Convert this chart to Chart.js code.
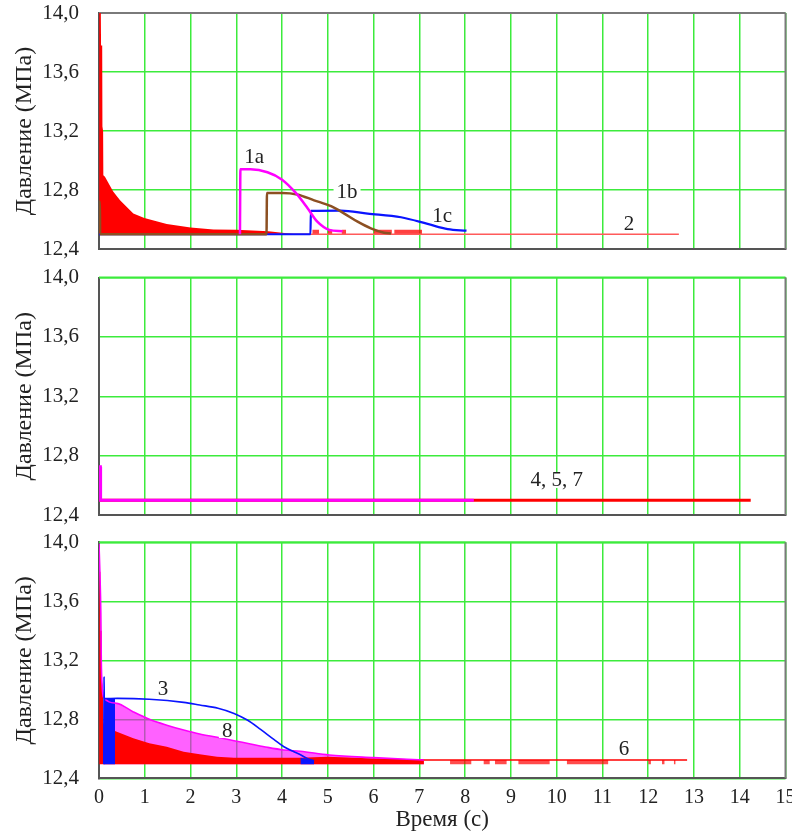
<!DOCTYPE html>
<html><head><meta charset="utf-8">
<script src="https://cdn.jsdelivr.net/npm/chart.js@4.4.0/dist/chart.umd.min.js"></script>
<style>
html,body{margin:0;padding:0;background:#fff;}
#wrap{position:relative;width:792px;height:834px;overflow:hidden;}
canvas{position:absolute;left:0;}
</style></head><body>
<div id="wrap">
<canvas id="c1" width="792" height="262" style="top:0px"></canvas>
<canvas id="c2" width="792" height="268" style="top:262px"></canvas>
<canvas id="c3" width="792" height="304" style="top:530px"></canvas>
</div>
<script>
// ---------- axes ----------
const X_MIN = 0, X_MAX = 15, X_STEP = 1;
const Y_TICKS = [12.4, 12.8, 13.2, 13.6, 14.0];
const Y_TITLE = 'Давление (МПа)';
const X_TITLE = 'Время (с)';

// ---------- panel 1 ----------
// curve 2 (red, oscillating envelope and flat tail)
const p1_env2_t = [0, 0.005, 0.04, 0.045, 0.07, 0.075, 0.09, 0.095, 0.13, 0.31, 0.46, 0.75, 0.99, 1.48, 2.0, 2.5, 3.0, 3.7, 4.3];
const p1_env2_v = [12.5, 14.0, 14.0, 13.78, 13.78, 13.23, 13.2, 12.9, 12.89, 12.79, 12.73, 12.64, 12.61, 12.57, 12.545, 12.533, 12.53, 12.52, 12.5];
const p1_line2_t = [0, 12.67];
const p1_line2_v = [12.5, 12.5];
const p1_dip2_start = [4.66, 5.0, 5.3, 6.0, 6.45];
const p1_dip2_end   = [4.81, 5.1, 5.4, 6.4, 7.06];
const p1_dip2_top = 12.53;
// curve 1a (magenta)
const p1_1a_t = [3.08, 3.09, 3.31, 3.68, 4.0, 4.3, 4.55, 4.77, 5.03, 5.32];
const p1_1a_v = [12.5, 12.94, 12.94, 12.92, 12.87, 12.78, 12.68, 12.585, 12.53, 12.52];
// curve 1b (brown)
const p1_1b_t = [0, 0.02, 0.025, 3.66, 3.67, 4.0, 4.33, 4.7, 5.07, 5.36, 5.65, 5.94, 6.23, 6.38];
const p1_1b_v = [12.72, 12.72, 12.5, 12.5, 12.78, 12.78, 12.77, 12.73, 12.69, 12.64, 12.585, 12.54, 12.51, 12.505];
// curve 1c (blue)
const p1_1c_t = [0, 4.62, 4.63, 5.28, 5.87, 6.6, 7.18, 7.62, 8.03];
const p1_1c_v = [12.5, 12.5, 12.658, 12.66, 12.64, 12.615, 12.57, 12.535, 12.524];
const p1_tag_text = ['1a', '1b', '1c', '2'];
const p1_tag_t = [3.39, 5.42, 7.5, 11.58];
const p1_tag_v = [13.03, 12.79, 12.63, 12.576];

// ---------- panel 2 ----------
const p2_mag_t = [0, 0.03, 0.035, 8.19];
const p2_mag_v = [12.725, 12.725, 12.5, 12.5];
const p2_red_t = [0, 14.24];
const p2_red_v = [12.5, 12.5];
const p2_tag_text = ['4, 5, 7'];
const p2_tag_t = [10.0];
const p2_tag_v = [12.636];

// ---------- panel 3 ----------
const P3_BASE = 12.495;
// curve 8 (magenta)
const p3_8_t = [0, 0.02, 0.04, 0.05, 0.07, 0.1, 0.39, 0.75, 1.1, 1.48, 1.85, 2.2, 2.58, 2.95, 3.31, 3.68, 4.04, 4.4, 5.03, 6.0, 7.1];
const p3_8_v = [13.99, 13.79, 13.52, 13.2, 13.02, 12.95, 12.908, 12.85, 12.80, 12.76, 12.727, 12.70, 12.678, 12.655, 12.633, 12.61, 12.592, 12.583, 12.558, 12.54, 12.524];
const p3_8fill_t = [0.1, 0.39, 0.75, 1.1, 1.48, 1.85, 2.2, 2.58, 2.95, 3.31, 3.68, 4.04, 4.4, 5.03, 6.0, 7.1];
const p3_8fill_v = [12.95, 12.908, 12.85, 12.80, 12.76, 12.727, 12.70, 12.678, 12.655, 12.633, 12.61, 12.592, 12.583, 12.558, 12.54, 12.524];
// curve 6 (red)
const p3_6fill_t = [0, 0.005, 0.03, 0.035, 0.06, 0.065, 0.09, 0.095, 0.12, 0.39, 0.75, 1.1, 1.48, 1.85, 2.2, 2.58, 2.95, 3.68, 4.4, 5.0, 6.0, 7.1];
const p3_6fill_v = [12.495, 13.8, 13.8, 13.4, 13.4, 13.05, 13.0, 12.78, 12.75, 12.716, 12.671, 12.637, 12.614, 12.58, 12.563, 12.546, 12.54, 12.54, 12.54, 12.546, 12.535, 12.53];
const p3_6line_t = [5.0, 12.85];
const p3_6line_v = [12.524, 12.524];
const p3_dip6_start = [7.67, 8.4, 8.65, 9.16, 10.22, 12.0, 12.3, 12.56];
const p3_dip6_end   = [8.14, 8.54, 8.91, 9.85, 11.13, 12.06, 12.36, 12.6];
const p3_dip6_top = 12.524;
// curve 3 (blue)
const p3_3_t = [0.105, 0.11, 0.115, 0.4, 1.1, 1.85, 2.2, 2.6, 2.95, 3.24, 3.53, 3.82, 4.04, 4.26, 4.37, 4.55, 4.7];
const p3_3_v = [12.495, 13.09, 12.94, 12.942, 12.936, 12.915, 12.897, 12.875, 12.84, 12.795, 12.732, 12.664, 12.614, 12.58, 12.565, 12.535, 12.52];
const p3_3fill_t = [0.11, 0.35, 0.351, 4.4, 4.7];
const p3_3fill_v = [12.94, 12.94, null, 12.54, 12.52];
const p3_tag_text = ['3', '8', '6'];
const p3_tag_t = [1.4, 2.8, 11.47];
const p3_tag_v = [13.012, 12.727, 12.605];

// ---------- styling ----------
const FONT = "'Liberation Serif','Times New Roman',serif";
const GRID = '#3ceb3c';
const AXIS = '#555555';
const TEXT = '#222222';
const RED = '#ff0000', MAG = '#ff00ff', BROWN = '#8c5022', BLUE = '#0a14ff';

function xy(t, v) { return t.map((x, i) => ({x: x, y: v[i]})); }
function dips(starts, ends, top) {
  const out = [];
  starts.forEach((s, i) => { out.push({x: s, y: top}, {x: ends[i], y: top}, {x: ends[i] + 0.001, y: null}); });
  return out;
}
function lineDS(label, data, color, width, order, smooth) {
  return {label, data, borderColor: color, borderWidth: width, pointRadius: 0, fill: false, order,
          cubicInterpolationMode: smooth ? 'monotone' : 'default', tension: 0};
}
function fillDS(label, data, color, base, order) {
  return {label, data, borderWidth: 0, borderColor: 'rgba(0,0,0,0)', backgroundColor: color,
          pointRadius: 0, fill: {value: base}, order, tension: 0, spanGaps: false};
}

function framePlugin(topColor) {
  return {
    id: 'frame',
    beforeDatasetsDraw(chart) {
      const {ctx, chartArea: a} = chart;
      ctx.save();
      ctx.lineWidth = 2;
      ctx.strokeStyle = topColor;
      ctx.beginPath(); ctx.moveTo(a.left, a.top); ctx.lineTo(a.right, a.top); ctx.stroke();
      ctx.strokeStyle = '#7a7a7a';
      ctx.beginPath(); ctx.moveTo(a.right, a.top); ctx.lineTo(a.right, a.bottom); ctx.stroke();
      ctx.restore();
    }
  };
}
function tagPlugin(texts, ts, vs) {
  return {
    id: 'tags',
    afterDatasetsDraw(chart) {
      const {ctx, scales: {x, y}} = chart;
      ctx.save();
      ctx.font = "21px " + FONT;
      ctx.textAlign = 'center';
      ctx.textBaseline = 'middle';
      texts.forEach((s, i) => {
        const px = x.getPixelForValue(ts[i]), py = y.getPixelForValue(vs[i]);
        const w = ctx.measureText(s).width;
        ctx.fillStyle = '#ffffff';
        ctx.fillRect(px - w / 2 - 3, py - 8, w + 6, 16);
        ctx.fillStyle = TEXT;
        ctx.fillText(s, px, py + 1);
      });
      ctx.restore();
    }
  };
}

function makeChart(id, datasets, cfg) {
  return new Chart(document.getElementById(id), {
    type: 'line',
    data: {datasets},
    options: {
      responsive: false, animation: false, devicePixelRatio: 1, events: [],
      layout: {padding: {top: cfg.top, right: 6.5, left: 0, bottom: 0}},
      plugins: {legend: {display: false}, tooltip: {enabled: false}},
      scales: {
        x: {
          type: 'linear', min: X_MIN, max: X_MAX,
          ticks: {display: cfg.showX, stepSize: X_STEP, autoSkip: false, maxRotation: 0, padding: 7,
                  color: TEXT, font: {family: FONT, size: 20}},
          grid: {color: GRID, lineWidth: 1.5, drawTicks: false},
          border: {display: true, color: AXIS, width: 2},
          title: {display: cfg.showX, text: X_TITLE, color: TEXT, font: {family: FONT, size: 23, lineHeight: 1.2},
                  padding: {top: 0, bottom: 0}},
          afterFit(s) { s.height = cfg.xh; s.paddingLeft = 0; s.paddingRight = 0; }
        },
        y: {
          type: 'linear', min: Y_TICKS[0], max: Y_TICKS[Y_TICKS.length - 1],
          afterBuildTicks(s) { s.ticks = Y_TICKS.map(v => ({value: v})); },
          ticks: {padding: 20, color: TEXT, font: {family: FONT, size: 21},
                  callback: v => Number(v).toFixed(1).replace('.', ',')},
          grid: {color: GRID, lineWidth: 1.5, drawTicks: false},
          border: {display: true, color: AXIS, width: 2},
          title: {display: true, text: Y_TITLE, color: TEXT, font: {family: FONT, size: 24, lineHeight: 1.2},
                  padding: {top: 10.5, bottom: 0}},
          afterFit(s) { s.width = 99; s.paddingTop = 0; s.paddingBottom = 0; }
        }
      }
    },
    plugins: [framePlugin(cfg.topColor), tagPlugin(cfg.tags[0], cfg.tags[1], cfg.tags[2])]
  });
}

// ---------- panel 1 ----------
makeChart('c1', [
  lineDS('1a', xy(p1_1a_t, p1_1a_v), MAG, 2.5, 1, true),
  lineDS('1b', xy(p1_1b_t, p1_1b_v), BROWN, 2.5, 2, true),
  lineDS('1c', xy(p1_1c_t, p1_1c_v), BLUE, 2.2, 3, true),
  lineDS('2', xy(p1_line2_t, p1_line2_v), '#ff5a5a', 1.3, 4, false),
  fillDS('2 dips', dips(p1_dip2_start, p1_dip2_end, p1_dip2_top), 'rgba(255,0,0,0.75)', 12.5, 5),
  fillDS('2 osc', xy(p1_env2_t, p1_env2_v), RED, 12.5, 6)
], {top: 13, xh: 13, showX: false, topColor: '#7a7a7a', tags: [p1_tag_text, p1_tag_t, p1_tag_v]});

// ---------- panel 2 ----------
makeChart('c2', [
  lineDS('4,5,7 a', xy(p2_mag_t, p2_mag_v), MAG, 3, 1, false),
  lineDS('4,5,7 b', xy(p2_red_t, p2_red_v), RED, 3, 2, false)
], {top: 15.5, xh: 15, showX: false, topColor: GRID, tags: [p2_tag_text, p2_tag_t, p2_tag_v]});

// ---------- panel 3 ----------
makeChart('c3', [
  lineDS('3', xy(p3_3_t, p3_3_v), BLUE, 1.6, 1, true),
  lineDS('8', xy(p3_8_t, p3_8_v), MAG, 1.6, 2, true),
  fillDS('3 osc', xy(p3_3fill_t, p3_3fill_v), BLUE, P3_BASE, 3),
  lineDS('6', xy(p3_6line_t, p3_6line_v), RED, 1.5, 4, false),
  fillDS('6 dips', dips(p3_dip6_start, p3_dip6_end, p3_dip6_top), 'rgba(255,0,0,0.7)', P3_BASE, 5),
  fillDS('6 osc', xy(p3_6fill_t, p3_6fill_v), RED, P3_BASE, 6),
  fillDS('8 osc', xy(p3_8fill_t, p3_8fill_v), 'rgba(255,0,255,0.62)', P3_BASE, 7)
], {top: 12.3, xh: 55.7, showX: true, topColor: GRID, tags: [p3_tag_text, p3_tag_t, p3_tag_v]});
</script>
</body></html>
